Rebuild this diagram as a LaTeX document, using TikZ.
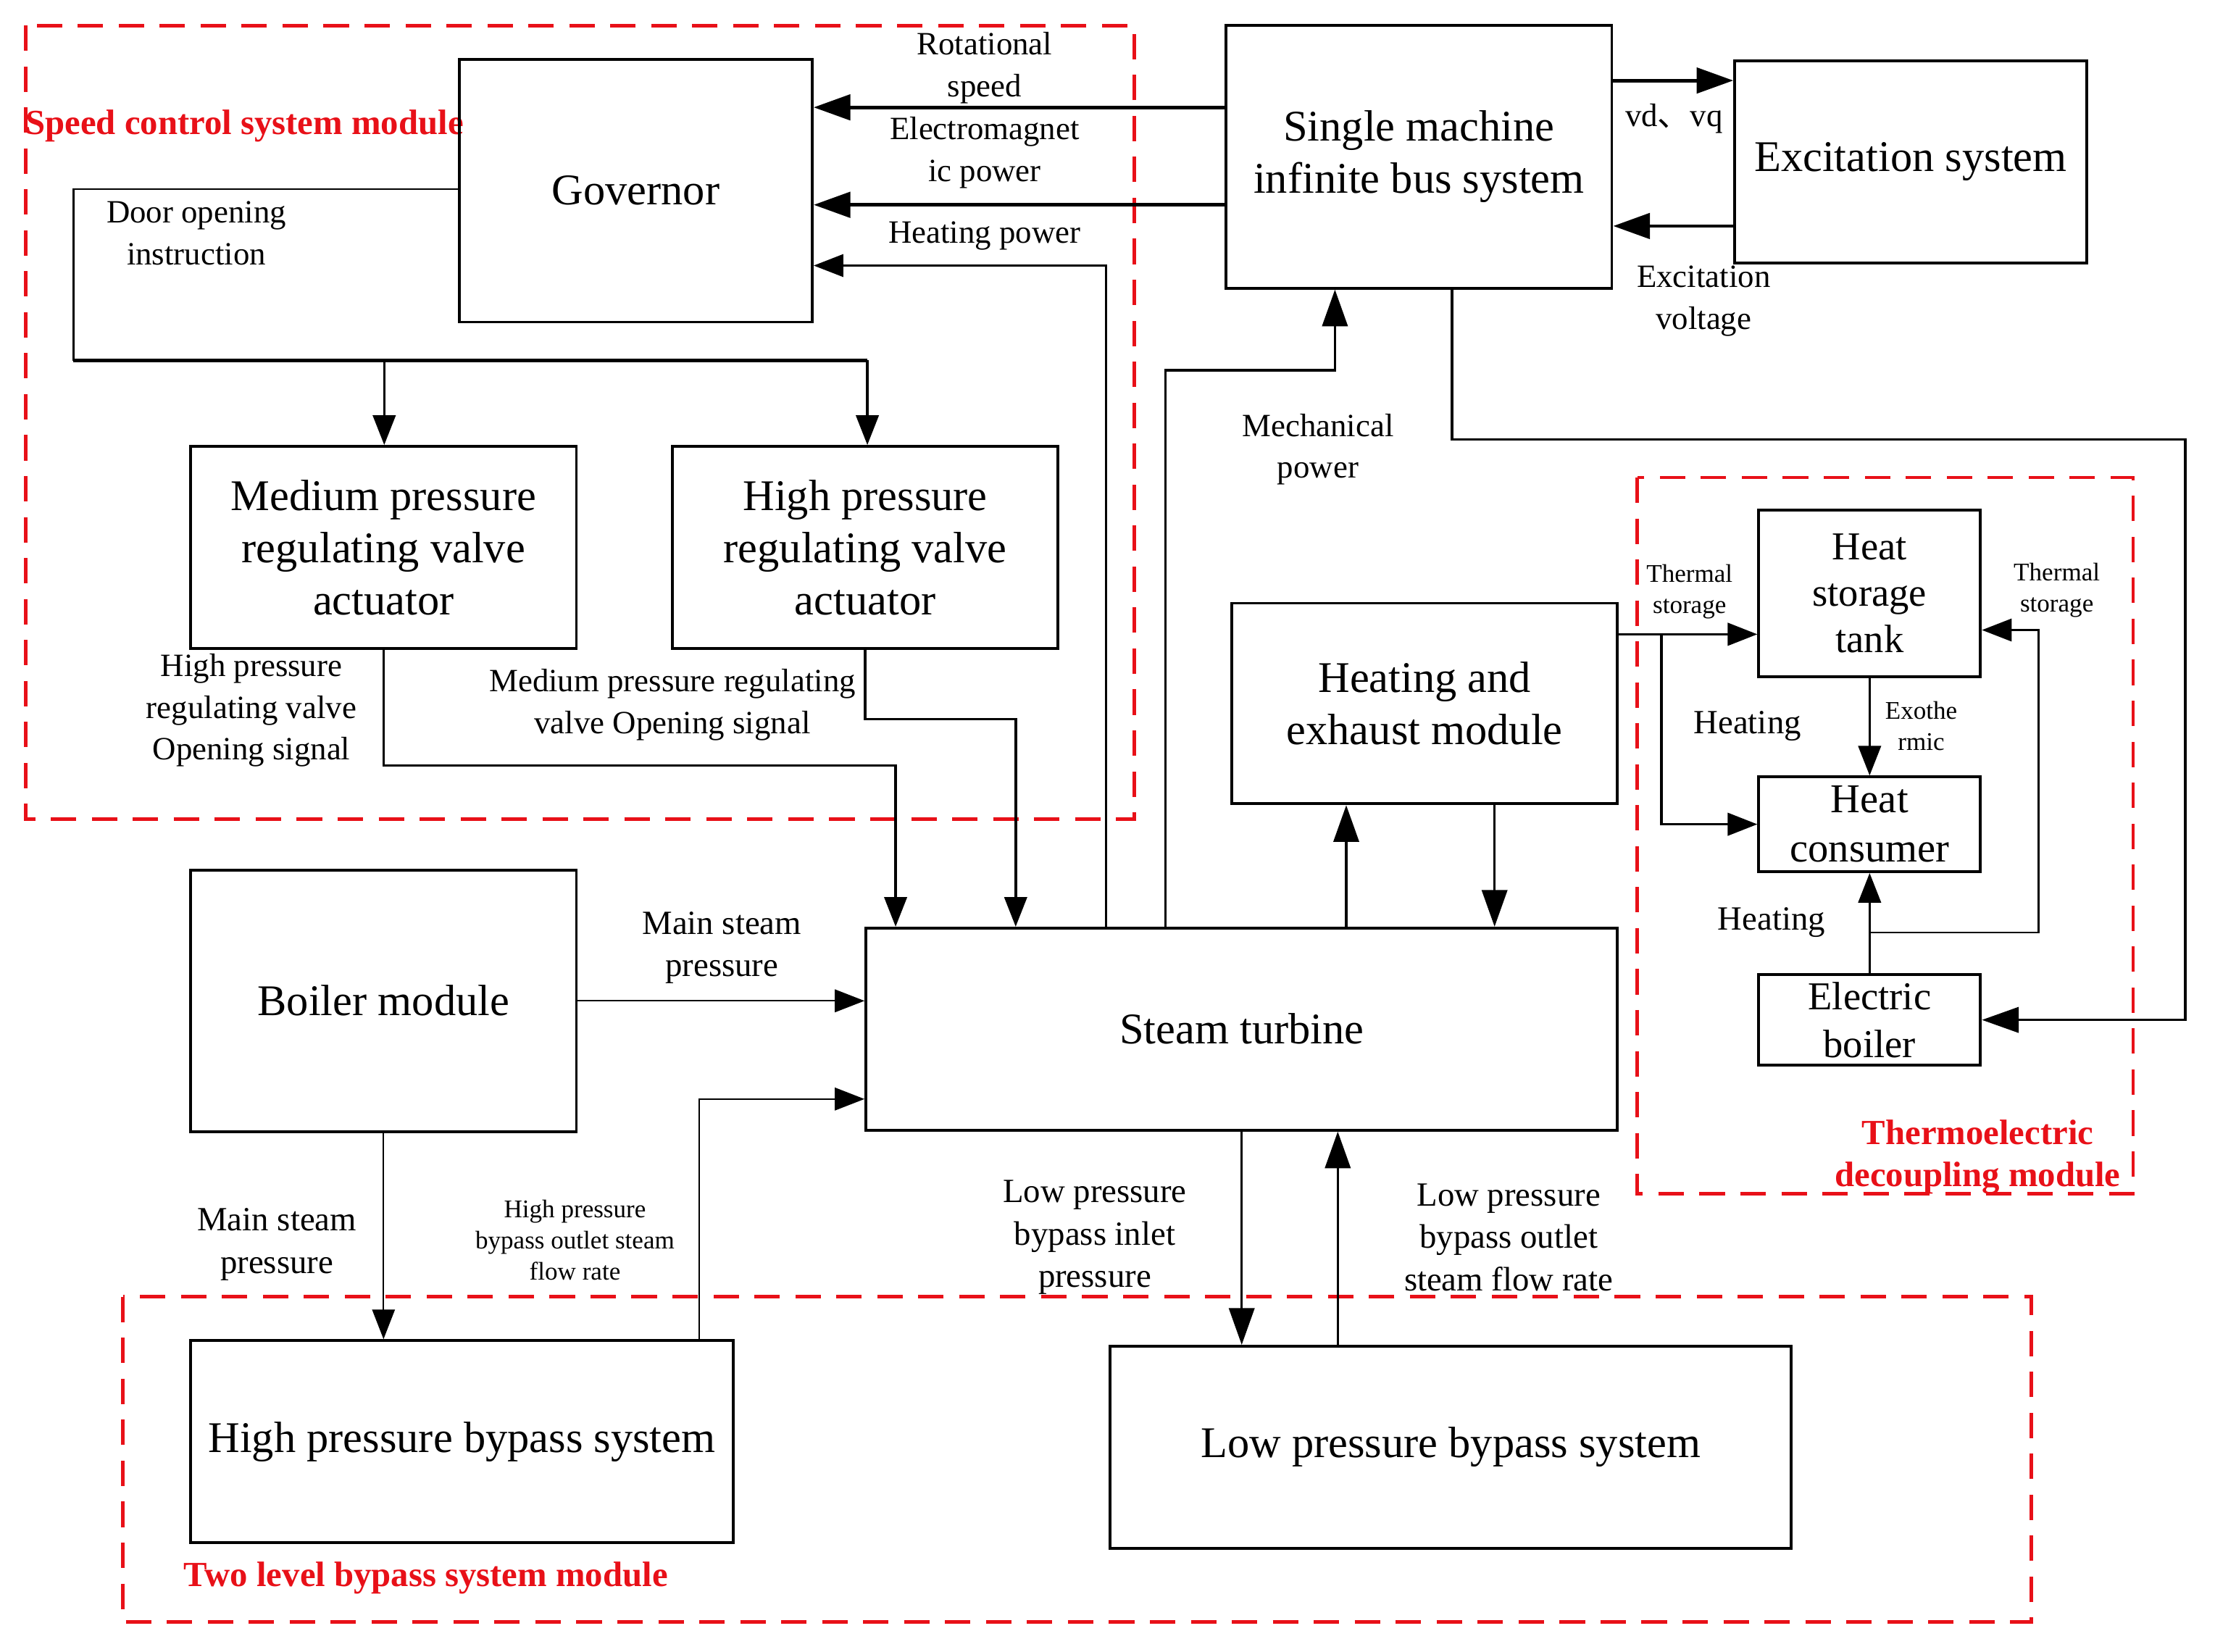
\documentclass[tikz,border=0pt]{standalone}
\usepackage{fontspec}
\setmainfont{Liberation Serif}
\newfontfamily\cjkfont{Noto Sans CJK SC}
\usetikzlibrary{arrows.meta}
\definecolor{redmod}{RGB}{232,16,24}
\begin{document}
\begin{tikzpicture}[x=1pt,y=-1pt,
  bigf/.style={font=\fontsize{31}{37}\selectfont},
  box/.style={draw, line width=2pt, inner sep=0pt, align=center, bigf},
  lab/.style={font=\fontsize{23}{29.5}\selectfont, align=center, inner sep=0pt},
  tinylab/.style={font=\fontsize{18}{22}\selectfont, align=center, inner sep=0pt},
  modbox/.style={draw=redmod, line width=2.5pt, dash pattern=on 18pt off 11pt},
  modlab/.style={text=redmod, font=\bfseries\fontsize{25}{30}\selectfont, align=center, inner sep=0pt},
  conn/.style={line width=1.8pt},
  thickc/.style={line width=2.5pt},
  thinc/.style={line width=1.2pt},
  arr/.style={-{Triangle[length=26pt,width=18pt]}},
  sarr/.style={-{Triangle[length=21pt,width=16pt]}}
]
\useasboundingbox (0,0) rectangle (1568,1169);

% red module frames
\draw[modbox] (18,18) rectangle (803,580);
\draw[modbox] (1159,338) rectangle (1510,845);
\draw[modbox] (87,918) rectangle (1438,1148);
\node[modlab, anchor=west] (lscm) at (18,89) {Speed control system module};
\node[modlab] (ltdm) at (1400,819) {Thermoelectric\\decoupling module};
\node[modlab, anchor=west] (ltbm) at (130,1117) {Two level bypass system module};

% boxes
\node[box, minimum width=250pt, minimum height=186pt] (gov) at (450,135) {Governor};
\node[box, minimum width=273pt, minimum height=186pt] (smib) at (1004.5,111) {Single machine\\infinite bus system};
\node[box, minimum width=249pt, minimum height=143pt] (exc) at (1352.5,114.5) {Excitation system};
\node[box, minimum width=273pt, minimum height=143pt] (mpv) at (271.5,387.5) {Medium pressure\\regulating valve\\actuator};
\node[box, minimum width=273pt, minimum height=143pt] (hpv) at (612.5,387.5) {High pressure\\regulating valve\\actuator};
\node[box, minimum width=273pt, minimum height=142pt] (hem) at (1008.5,498) {Heating and\\exhaust module};
\node[box, minimum width=157pt, minimum height=118pt, font=\fontsize{28}{33}\selectfont] (hst) at (1323.5,420) {Heat\\storage\\tank};
\node[box, minimum width=157pt, minimum height=67pt, font=\fontsize{29}{35}\selectfont] (hc) at (1323.5,583.5) {Heat\\consumer};
\node[box, minimum width=157pt, minimum height=64pt, font=\fontsize{28}{34}\selectfont] (eb) at (1323.5,722) {Electric\\boiler};
\node[box, minimum width=273pt, minimum height=185pt] (bm) at (271.5,708.5) {Boiler module};
\node[box, minimum width=532pt, minimum height=143pt] (st) at (879,728.5) {Steam turbine};
\node[box, minimum width=384pt, minimum height=143pt] (hpb) at (327,1020.5) {High pressure bypass system};
\node[box, minimum width=482pt, minimum height=143pt] (lpb) at (1027,1024.5) {Low pressure bypass system};

% connectors: speed control
\draw[thickc, arr] (smib.west |- 0,76) -- (gov.east |- 0,76);
\draw[thickc, arr] (smib.west |- 0,145) -- (gov.east |- 0,145);
\draw[thinc, sarr] (st.north -| 783,0) |- (gov.east |- 0,188);
\coordinate (dl) at (52,134);
\coordinate (bus1) at (272,255);
\coordinate (bus2) at (614,255);
\draw[thinc] (gov.west |- dl) -- (dl) -- (52,255) -- (bus1);
\draw[thickc] (52,255) -- (bus2);
\draw[conn, sarr] (bus1) -- (mpv.north -| bus1);
\draw[conn, sarr] (bus2) -- (hpv.north -| bus2);
\draw[conn, sarr] (mpv.south) |- (634,542) -- (st.north -| 634,0);
\draw[conn, sarr] (hpv.south) |- (719,509) -- (st.north -| 719,0);

% mechanical power / excitation
\draw[conn, arr] (st.north -| 825,0) |- (945,262) -- (smib.south -| 945,0);
\draw[thickc, arr] (smib.east |- 0,57) -- (exc.west |- 0,57);
\draw[thickc, arr] (exc.west |- 0,160) -- (smib.east |- 0,160);
\draw[conn, arr] (smib.south -| 1028,0) |- (1547,311) |- (eb.east);

% heating and exhaust
\draw[conn, arr] (st.north -| 953,0) -- (hem.south -| 953,0);
\draw[conn, arr] (hem.south -| 1058,0) -- (st.north -| 1058,0);

% thermoelectric module
\coordinate (tsj) at (1176,449);
\draw[conn, sarr] (hem.east |- tsj) -- (hst.west |- tsj);
\draw[conn, sarr] (tsj) |- (hc.west);
\draw[conn, sarr] (hst.south) -- (hc.north);
\draw[conn, sarr] (eb.north) -- (hc.south);
\coordinate (hj) at (1323.5,660);
\draw[thinc, sarr] (hj) -| (1443,446) -- (hst.east |- 0,446);

% boiler and bypass
\draw[thinc, sarr] (bm.east) -- (st.west |- bm.east);
\draw[thinc, sarr] (bm.south) -- (hpb.north -| bm.south);
\draw[thinc, sarr] (hpb.north -| 495,0) |- (st.west |- 0,778);
\draw[conn, arr] (st.south -| 879,0) -- (lpb.north -| 879,0);
\draw[conn, arr] (lpb.north -| 947,0) -- (st.south -| 947,0);

% labels
\node[lab] (l1) at (697,48) {Rotational\\speed};
\node[lab] (l2) at (697,108) {Electromagnet\\ic power};
\node[lab] (l3) at (697,167) {Heating power};
\node[lab] (l4) at (139,165) {Door opening\\instruction};
\node[lab] (l5) at (178,503) {High pressure\\regulating valve\\Opening signal};
\node[lab] (l6) at (476,499) {Medium pressure regulating\\valve Opening signal};
\node[lab] (l7) at (933,318) {Mechanical\\power};
\node[lab] (l8) at (1185,84) {vd{\cjkfont 、}vq};
\node[lab] (l9) at (1206,213) {Excitation\\voltage};
\node[tinylab] (l10) at (1196,419) {Thermal\\storage};
\node[tinylab] (l11) at (1456,418) {Thermal\\storage};
\node[lab, font=\fontsize{24}{30}\selectfont] (l12) at (1237,514) {Heating};
\node[lab, font=\fontsize{24}{30}\selectfont] (l13) at (1254,653) {Heating};
\node[tinylab] (l14) at (1360,514) {Exothe\\rmic};
\node[lab, font=\fontsize{24}{30}\selectfont] (l15) at (511,671) {Main steam\\pressure};
\node[lab, font=\fontsize{24}{30}\selectfont] (l16) at (196,881) {Main steam\\pressure};
\node[tinylab] (l17) at (407,878) {High pressure\\bypass outlet steam\\flow rate};
\node[lab, font=\fontsize{24}{30}\selectfont] (l18) at (775,876) {Low pressure\\bypass inlet\\pressure};
\node[lab, font=\fontsize{24}{30}\selectfont] (l19) at (1068,876) {Low pressure\\bypass outlet\\steam flow rate};
\end{tikzpicture}
\end{document}
